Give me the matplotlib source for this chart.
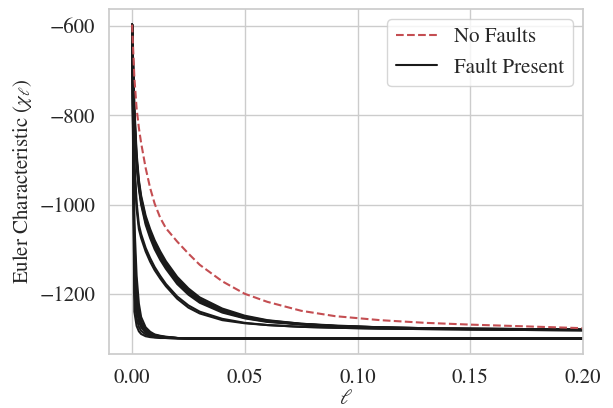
import numpy as np
import matplotlib
matplotlib.use("Agg")
import matplotlib.pyplot as plt
import seaborn as sns

# filtration values (ell) shared by every run
ell = [0, 0.001, 0.002, 0.003, 0.004, 0.006, 0.008, 0.01, 0.0125, 0.015, 0.02, 0.025,
       0.03, 0.04, 0.05, 0.06, 0.075, 0.09, 0.11, 0.13, 0.15, 0.175, 0.2]

# Euler characteristic curve without faults
no_faults = [-597, -715, -785, -828, -862, -918, -963, -998, -1030, -1053, -1083, -1110,
             -1135, -1172, -1200, -1218, -1238, -1250, -1259, -1265, -1269, -1273, -1277]

# runs with a fault present: slow decay group
slow_runs = [
    [-597, -800, -900, -955, -990, -1035, -1065, -1090, -1115, -1135, -1170, -1195,
     -1215, -1238, -1252, -1261, -1268, -1272, -1275, -1277, -1278, -1279, -1280],
    [-597, -780, -885, -945, -980, -1025, -1055, -1080, -1105, -1127, -1162, -1188,
     -1208, -1233, -1249, -1259, -1267, -1271, -1275, -1277, -1278, -1279, -1280],
    [-597, -820, -915, -965, -1000, -1045, -1075, -1100, -1124, -1144, -1178, -1202,
     -1220, -1242, -1255, -1263, -1269, -1273, -1276, -1278, -1279, -1280, -1281],
    [-597, -810, -905, -960, -995, -1040, -1070, -1095, -1120, -1140, -1174, -1198,
     -1218, -1240, -1254, -1262, -1268, -1272, -1276, -1278, -1279, -1280, -1281],
    [-597, -790, -895, -950, -985, -1030, -1060, -1085, -1110, -1131, -1166, -1192,
     -1212, -1236, -1251, -1260, -1267, -1272, -1275, -1277, -1278, -1279, -1280],
    [-597, -920, -1010, -1055, -1075, -1105, -1128, -1147, -1166, -1183, -1211, -1231,
     -1244, -1259, -1266, -1270, -1274, -1276, -1278, -1279, -1280, -1281, -1282],
    [-597, -900, -995, -1045, -1066, -1097, -1120, -1140, -1160, -1178, -1206, -1226,
     -1240, -1256, -1265, -1270, -1274, -1276, -1278, -1279, -1280, -1281, -1282],
]

# runs with a fault present: fast decay group
fast_runs = [
    [-597, -1240, -1272, -1284, -1290, -1295, -1297, -1298, -1299, -1299, -1300, -1300,
     -1300, -1300, -1300, -1300, -1300, -1300, -1300, -1300, -1300, -1300, -1300],
    [-597, -1200, -1255, -1274, -1283, -1291, -1295, -1297, -1298, -1299, -1300, -1300,
     -1300, -1300, -1300, -1300, -1300, -1300, -1300, -1300, -1300, -1300, -1300],
    [-597, -1160, -1235, -1262, -1275, -1287, -1292, -1295, -1297, -1298, -1299, -1300,
     -1300, -1300, -1300, -1300, -1300, -1300, -1300, -1300, -1300, -1300, -1300],
    [-597, -1130, -1220, -1255, -1270, -1284, -1290, -1294, -1296, -1298, -1299, -1300,
     -1300, -1300, -1300, -1300, -1300, -1300, -1300, -1300, -1300, -1300, -1300],
    [-597, -1080, -1190, -1240, -1262, -1280, -1288, -1292, -1295, -1297, -1299, -1300,
     -1300, -1300, -1300, -1300, -1300, -1300, -1300, -1300, -1300, -1300, -1300],
    [-597, -1040, -1160, -1222, -1252, -1275, -1285, -1291, -1294, -1296, -1299, -1300,
     -1300, -1300, -1300, -1300, -1300, -1300, -1300, -1300, -1300, -1300, -1300],
    [-597, -1100, -1205, -1248, -1266, -1282, -1289, -1293, -1296, -1297, -1299, -1300,
     -1300, -1300, -1300, -1300, -1300, -1300, -1300, -1300, -1300, -1300, -1300],
]

sns.set_theme(style="whitegrid")
plt.rcParams['font.family'] = ['serif']
plt.rcParams['font.serif'] = ['STIXGeneral', 'Liberation Serif', 'DejaVu Serif']
plt.rcParams['mathtext.fontset'] = 'stix'

fig = plt.figure(figsize=(6.13, 4.08), dpi=100)
ax = fig.add_axes([0.178, 0.132, 0.773, 0.846])

black = '#1a1a1a'
fault_line = None
for run in slow_runs + fast_runs:
    fault_line, = ax.plot(ell, run, color=black, lw=1.5)
nf_line, = ax.plot(ell, no_faults, color='#C44E52', lw=1.5, ls='--')

ax.set_xlim(-0.0102, 0.2)
ax.set_xticks([0.0, 0.05, 0.10, 0.15, 0.20])
ax.set_yticks([-600, -800, -1000, -1200])
ax.tick_params(labelsize=15, pad=4)
ax.set_xlabel(r'$\ell$', fontsize=15, labelpad=1)
ax.set_ylabel(r'Euler Characteristic ($\chi_\ell$)', fontsize=15)

ax.legend([nf_line, fault_line], ['No Faults', 'Fault Present'], loc='upper right',
          fontsize=15, frameon=True)

fig.savefig('out.png', dpi=100)
